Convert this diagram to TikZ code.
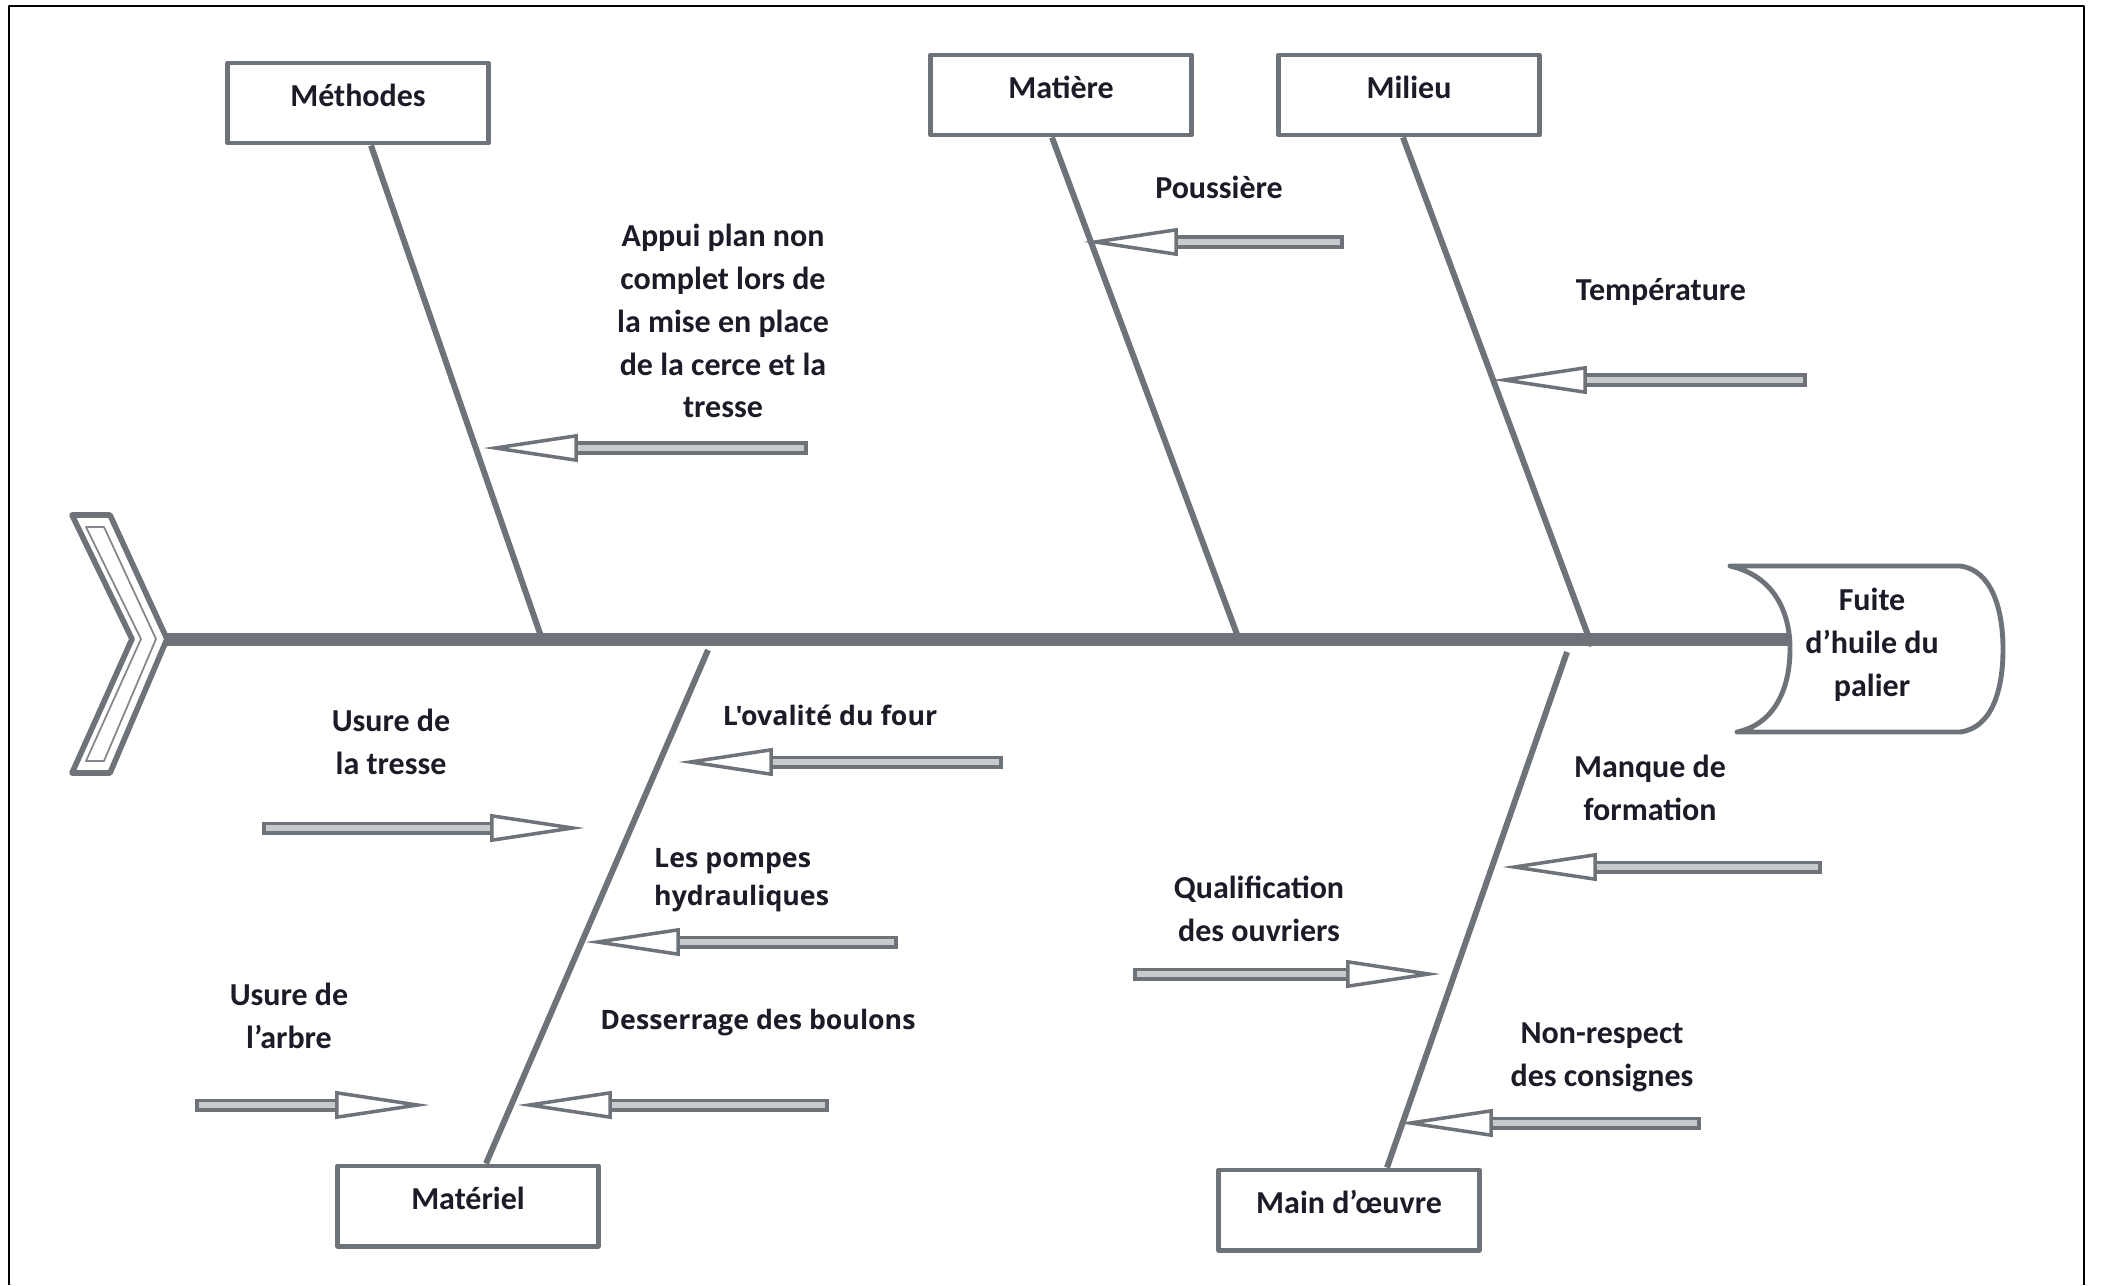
\documentclass[tikz,border=0pt]{standalone}
\usepackage{fontspec}
\setmainfont{Carlito}
\newfontfamily\widefont{Open Sans}[Ligatures=TeXOff]
\usetikzlibrary{calc,arrows.meta}
\definecolor{bonegray}{RGB}{110,115,122}
\definecolor{shaftgray}{RGB}{200,202,206}
\definecolor{inkdark}{RGB}{28,28,40}
\tikzset{
  every picture/.style={line join=round},
  frame/.style={draw=black,line width=.7pt},
  spine/.style={draw=bonegray,line width=3.7pt},
  bone/.style={draw=bonegray,line width=1.7pt},
  tailout/.style={draw=bonegray,line width=1.6pt},
  tailin/.style={draw=bonegray!85,line width=.5pt},
  headshape/.style={draw=bonegray,line width=1.4pt,fill=white},
  catbox/.style={draw=bonegray,line width=1.4pt,fill=white,
    minimum width=2.6cm,minimum height=.8cm,inner sep=1pt,text depth=4.5pt,
    font=\fontsize{9.1}{12.2}\selectfont\bfseries,text=inkdark},
  lab/.style={font=\fontsize{9.1}{12.2}\selectfont\bfseries,text=inkdark,
    align=center,inner sep=1pt},
  widelab/.style={font=\widefont\fontsize{7.6}{10.8}\selectfont\bfseries,
    text=inkdark,inner sep=1pt},
  cause/.style={draw=bonegray,line width=3.7pt,
    -{Triangle[length=27pt,width=7.8pt,line width=1pt,fill=white]},
    postaction={draw=shaftgray,line width=1.5pt,
      shorten <=1.1pt,shorten >=27pt,-}}
}
\begin{document}
\begin{tikzpicture}[x=.01cm,y=-.01cm]
  \useasboundingbox (0,0) rectangle (2107,1285);
  \draw[frame] (9,1285)--(9,6)--(2084,6)--(2084,1285);

  % Tail, spine and head of the fish.
  \draw[tailout] (72,515)--(110,515)--(167,639)--(110,773)--(72,773)
    --(132,639)--cycle;
  \draw[tailin] (86,527)--(104,527)--(156,639)--(104,761)--(86,761)
    --(141,639)--cycle;
  \coordinate (tip) at (167,639);
  \draw[headshape] (1730,566)--(1960,566)
    .. controls (1992,570) and (2003,610) .. (2003,649)
    .. controls (2003,690) and (1992,728) .. (1960,732)--(1737,732)
    .. controls (1775,724) and (1790,688) .. (1790,649)
    .. controls (1790,612) and (1774,576) .. (1730,566)--cycle;
  \coordinate (back) at (1789,639);
  \draw[spine] (tip)--(back);
  \node[lab] (effect) at (1872,645) {Fuite\\d’huile du\\palier};

  % The five categories and their bones.
  \node[catbox] (meth) at (358,103) {Méthodes};
  \node[catbox] (mat) at (1061,95) {Matière};
  \node[catbox] (mil) at (1409,95) {Milieu};
  \node[catbox] (matl) at (468,1206) {Matériel};
  \node[catbox] (mo) at (1349,1210) {Main d’œuvre};
  \coordinate (methE) at (544,645);
  \coordinate (matE) at (1241,645);
  \coordinate (milE) at (1592,646);
  \coordinate (matlE) at (708,650);
  \coordinate (moE) at (1567,652);
  \draw[bone] ($(meth.south)+(13,0)$)--(methE);
  \draw[bone] ($(mat.south)+(-9,0)$)--(matE);
  \draw[bone] ($(mil.south)+(-6,0)$)--(milE);
  \draw[bone] ($(matl.north)+(18,0)$)--(matlE);
  \draw[bone] ($(mo.north)+(38,0)$)--(moE);

  % The causes: hollow arrows towards the bones.
  \foreach \xt/\xh/\y/\name in {808/483/448/appui,1344/1083/242/pouss,
      1807/1492/380/temp,1003/678/762/oval,262/585/828/tresse,
      898/585/942/pompe,195/430/1105/arbre,829/517/1105/boul,
      1822/1502/867/form,1133/1441/974/qual,1701/1398/1123/cons}{
    \coordinate (t\name) at (\xt,\y);
    \coordinate (h\name) at (\xh,\y);
    \draw[cause] (t\name)--(h\name);
  }

  % Cause labels.
  \node[lab] (lappui) at (723,321)
    {Appui plan non\\complet lors de\\la mise en place\\de la cerce et la\\tresse};
  \node[lab] (lpouss) at (1219,187) {Poussière};
  \node[lab] (ltemp) at (1661,292) {Température};
  \node[lab] (ltresse) at (391,742) {Usure de\\la tresse};
  \node[widelab] (loval) at (830,715) {L'ovalité du four};
  \node[widelab,anchor=west,align=left] (lpompe) at (650,880)
    {Les pompes\\hydrauliques};
  \node[widelab] (lboul) at (758,1023) {Desserrage des boulons};
  \node[lab] (larbre) at (289,1016) {Usure de\\l’arbre};
  \node[lab] (lform) at (1650,788) {Manque de\\formation};
  \node[lab] (lqual) at (1259,909) {Qualification\\des ouvriers};
  \node[lab] (lcons) at (1602,1057) {Non-respect\\des consignes};
\end{tikzpicture}
\end{document}
